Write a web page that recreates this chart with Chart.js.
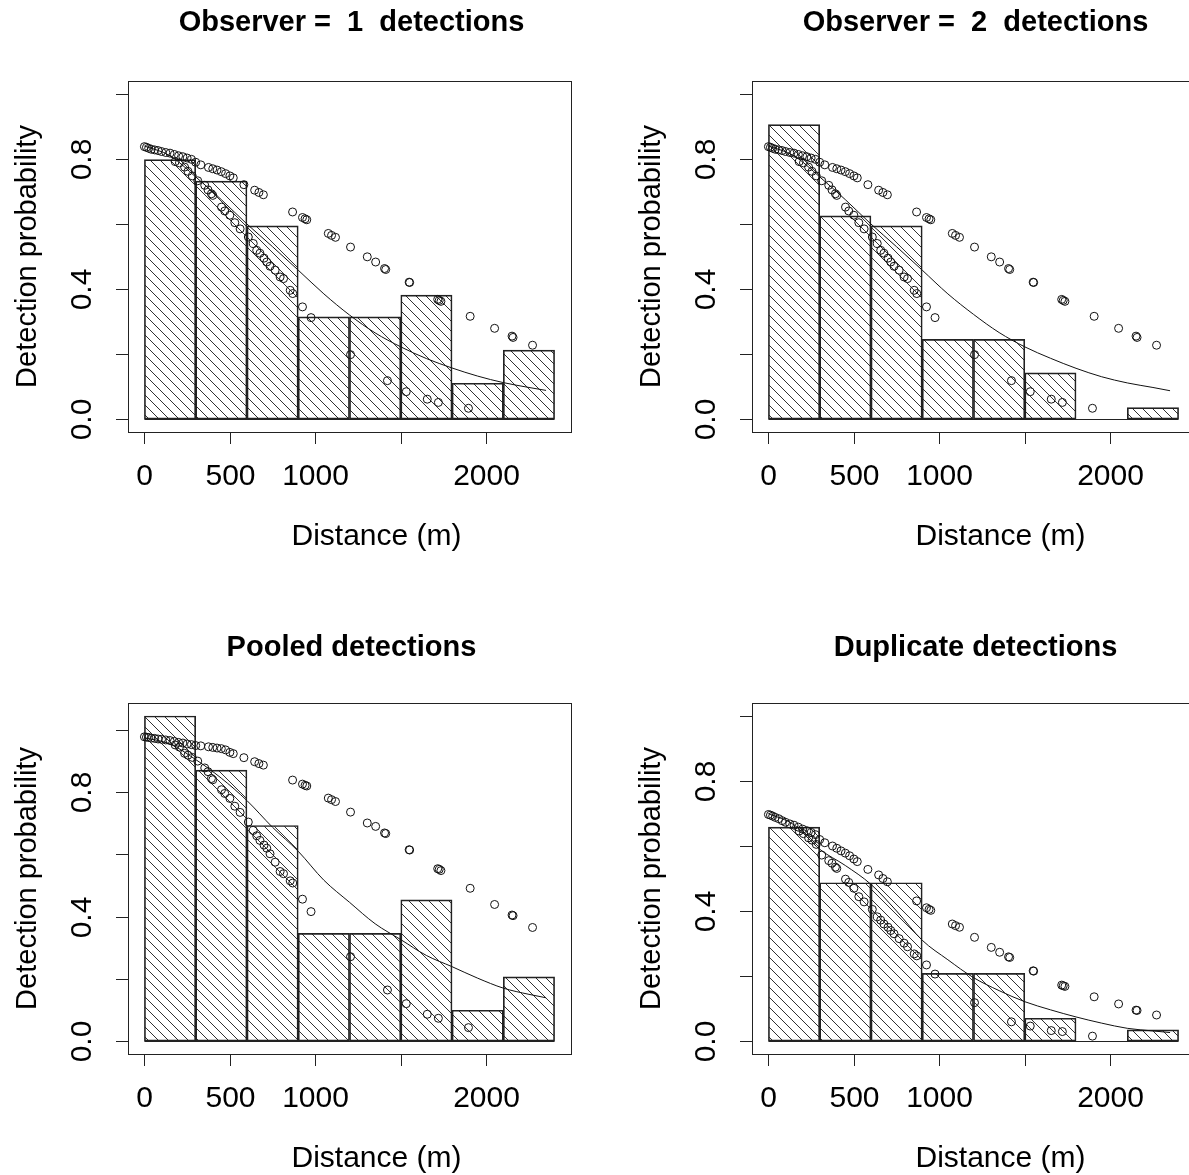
<!DOCTYPE html>
<html>
<head>
<meta charset="utf-8">
<script src="https://cdn.jsdelivr.net/npm/chart.js@4.4.1/dist/chart.umd.min.js"></script>
<style>
  html, body { margin: 0; padding: 0; background: #fff; overflow: hidden; }
  #wrap { position: relative; width: 1189px; height: 1175px; overflow: hidden; }
  canvas { position: absolute; }
</style>
</head>
<body>
<div id="wrap">
  <canvas id="obs1" width="624" height="622" style="left:0;top:0"></canvas>
  <canvas id="obs2" width="624" height="622" style="left:624px;top:0"></canvas>
  <canvas id="pooled" width="624" height="622" style="left:0;top:622px"></canvas>
  <canvas id="dup" width="624" height="622" style="left:624px;top:622px"></canvas>
</div>
<script>
// histogram bins (300 m wide), mid points and scaled heights
const binMids = [150, 450, 750, 1050, 1350, 1650, 1950, 2250];
const histObs1 = [0.798, 0.732, 0.594, 0.314, 0.314, 0.381, 0.110, 0.212];
const histObs2 = [0.906, 0.625, 0.594, 0.245, 0.245, 0.142, 0, 0.035];
const histPooled = [1.045, 0.871, 0.693, 0.346, 0.346, 0.454, 0.099, 0.206];
const histDup = [0.658, 0.487, 0.487, 0.208, 0.208, 0.070, 0, 0.034];

// average detection function curve
const curveDist = [0, 150, 300, 450, 600, 750, 900, 1050, 1200, 1350, 1500, 1650, 1800, 1950, 2100, 2250, 2350];
const curveObs1 = [0.840, 0.810, 0.745, 0.675, 0.600, 0.530, 0.458, 0.385, 0.320, 0.265, 0.222, 0.186, 0.157, 0.132, 0.112, 0.097, 0.088];
const curveObs2 = [0.840, 0.810, 0.745, 0.675, 0.600, 0.530, 0.458, 0.385, 0.322, 0.266, 0.222, 0.187, 0.156, 0.130, 0.111, 0.097, 0.087];
const curvePooled = [0.975, 0.955, 0.905, 0.845, 0.773, 0.687, 0.610, 0.517, 0.446, 0.377, 0.326, 0.275, 0.239, 0.202, 0.170, 0.150, 0.139];
const curveDup = [0.700, 0.665, 0.590, 0.540, 0.482, 0.400, 0.310, 0.250, 0.195, 0.155, 0.121, 0.096, 0.074, 0.055, 0.039, 0.031, 0.026];

// fitted detection probabilities of each detection, by distance
const sightDist = [
  0, 12, 25, 40, 60, 80, 100, 125, 150, 175, 200, 225, 250, 275, 300, 330, 375, 400, 425, 450,
  475, 500, 520, 582, 645, 670, 696, 867, 925, 940, 950, 1076, 1095, 1118, 1206, 1304, 1353, 1405, 1412, 1549,
  1552, 1716, 1725, 1735, 1906, 2049, 2151, 2157, 2271,
  180, 205, 235, 255, 280, 312, 353, 372, 392, 400, 451, 470, 500, 529, 560, 608, 637, 657, 676, 700,
  716, 735, 765, 794, 814, 853, 868, 925, 975, 1206, 1422, 1532, 1655, 1720, 1896
];
const pObs1 = [
  0.838, 0.836, 0.833, 0.830, 0.828, 0.826, 0.823, 0.820, 0.818, 0.814, 0.810, 0.807, 0.803, 0.799, 0.790, 0.782, 0.774, 0.770, 0.766, 0.761,
  0.755, 0.748, 0.742, 0.721, 0.704, 0.697, 0.690, 0.637, 0.620, 0.616, 0.613, 0.571, 0.565, 0.559, 0.529, 0.499, 0.483, 0.463, 0.460, 0.421,
  0.420, 0.368, 0.365, 0.362, 0.316, 0.279, 0.255, 0.251, 0.227,
  0.792, 0.788, 0.775, 0.762, 0.748, 0.733, 0.719, 0.705, 0.693, 0.688, 0.652, 0.640, 0.627, 0.604, 0.585, 0.560, 0.540, 0.519, 0.510, 0.495,
  0.483, 0.470, 0.458, 0.437, 0.432, 0.396, 0.386, 0.345, 0.312, 0.198, 0.118, 0.084, 0.061, 0.051, 0.033
];
const pObs2 = [
  0.838, 0.836, 0.833, 0.830, 0.828, 0.826, 0.823, 0.820, 0.818, 0.814, 0.810, 0.807, 0.803, 0.799, 0.790, 0.782, 0.774, 0.770, 0.766, 0.761,
  0.755, 0.748, 0.742, 0.721, 0.704, 0.697, 0.690, 0.637, 0.620, 0.616, 0.613, 0.571, 0.565, 0.559, 0.529, 0.499, 0.483, 0.463, 0.460, 0.421,
  0.420, 0.368, 0.365, 0.362, 0.316, 0.279, 0.255, 0.251, 0.227,
  0.792, 0.788, 0.775, 0.762, 0.748, 0.733, 0.719, 0.705, 0.693, 0.688, 0.652, 0.640, 0.627, 0.604, 0.585, 0.560, 0.540, 0.519, 0.510, 0.495,
  0.483, 0.470, 0.458, 0.437, 0.432, 0.396, 0.386, 0.345, 0.312, 0.198, 0.118, 0.084, 0.061, 0.051, 0.033
];
const pPooled = [
  0.978, 0.977, 0.976, 0.974, 0.973, 0.971, 0.970, 0.968, 0.966, 0.963, 0.960, 0.958, 0.955, 0.953, 0.950, 0.949, 0.946, 0.944, 0.942, 0.940,
  0.936, 0.928, 0.924, 0.911, 0.898, 0.892, 0.887, 0.839, 0.826, 0.822, 0.820, 0.781, 0.776, 0.770, 0.736, 0.701, 0.690, 0.669, 0.667, 0.615,
  0.614, 0.554, 0.552, 0.548, 0.491, 0.439, 0.405, 0.403, 0.365,
  0.952, 0.945, 0.925, 0.919, 0.912, 0.900, 0.878, 0.866, 0.844, 0.840, 0.808, 0.796, 0.780, 0.755, 0.735, 0.704, 0.677, 0.660, 0.645, 0.630,
  0.620, 0.602, 0.575, 0.545, 0.538, 0.515, 0.508, 0.456, 0.416, 0.271, 0.164, 0.120, 0.086, 0.073, 0.043
];
const pDup = [
  0.697, 0.695, 0.692, 0.688, 0.684, 0.678, 0.673, 0.668, 0.664, 0.658, 0.652, 0.647, 0.642, 0.635, 0.620, 0.610, 0.600, 0.593, 0.585, 0.578,
  0.570, 0.560, 0.552, 0.528, 0.511, 0.500, 0.490, 0.431, 0.410, 0.405, 0.402, 0.360, 0.355, 0.350, 0.319, 0.288, 0.273, 0.259, 0.257, 0.216,
  0.215, 0.172, 0.170, 0.168, 0.136, 0.114, 0.095, 0.094, 0.080,
  0.646, 0.638, 0.625, 0.618, 0.605, 0.572, 0.555, 0.547, 0.535, 0.531, 0.498, 0.488, 0.470, 0.444, 0.428, 0.405, 0.382, 0.372, 0.360, 0.350,
  0.340, 0.330, 0.315, 0.301, 0.290, 0.268, 0.262, 0.234, 0.206, 0.118, 0.059, 0.046, 0.032, 0.029, 0.015
];

// axis ticks (R drops the labels that would crowd)
const xTicks = [0, 500, 1000, 1500, 2000];
const xTickLabels = ['0', '500', '1000', '', '2000'];
const yTicks = [0, 0.2, 0.4, 0.6, 0.8, 1.0];
const yTickLabels = ['0.0', '', '0.4', '', '0.8', ''];

const FONT = '"Liberation Sans", Arial, sans-serif';

function hatch(ctx) {
  const c = document.createElement('canvas');
  c.width = 10; c.height = 10;
  const g = c.getContext('2d');
  g.strokeStyle = '#1a1a1a';
  g.lineWidth = 0.9;
  g.beginPath();
  g.moveTo(-1, -1); g.lineTo(11, 11);
  g.moveTo(-1, 9); g.lineTo(1, 11);
  g.moveTo(9, -1); g.lineTo(11, 1);
  g.stroke();
  return ctx.createPattern(c, 'repeat');
}

// draws the R style frame, ticks and texts
const rFrame = {
  id: 'rFrame',
  afterDraw(chart, args, opts) {
    const ctx = chart.ctx;
    const a = chart.chartArea;
    const xs = chart.scales.x, ys = chart.scales.y;
    ctx.save();
    ctx.strokeStyle = '#222';
    ctx.fillStyle = '#000';
    ctx.lineWidth = 1;
    // baseline under the histogram (empty bins too)
    ctx.beginPath();
    ctx.moveTo(xs.getPixelForValue(0), Math.round(ys.getPixelForValue(0)) + 0.5);
    ctx.lineTo(xs.getPixelForValue(2400), Math.round(ys.getPixelForValue(0)) + 0.5);
    ctx.stroke();
    // box
    ctx.strokeRect(Math.round(a.left) + 0.5, Math.round(a.top) + 0.5, Math.round(a.right - a.left), Math.round(a.bottom - a.top));
    // x ticks
    ctx.font = '30px ' + FONT;
    ctx.textAlign = 'center';
    ctx.textBaseline = 'middle';
    xTicks.forEach((v, i) => {
      const px = Math.round(xs.getPixelForValue(v)) + 0.5;
      ctx.beginPath();
      ctx.moveTo(px, a.bottom);
      ctx.lineTo(px, a.bottom + 12);
      ctx.stroke();
      if (xTickLabels[i]) ctx.fillText(xTickLabels[i], px, a.bottom + 45);
    });
    // y ticks
    yTicks.forEach((v, i) => {
      const py = Math.round(ys.getPixelForValue(v)) + 0.5;
      ctx.beginPath();
      ctx.moveTo(a.left, py);
      ctx.lineTo(a.left - 12, py);
      ctx.stroke();
      if (yTickLabels[i]) {
        ctx.save();
        ctx.translate(a.left - 45, py);
        ctx.rotate(-Math.PI / 2);
        ctx.fillText(yTickLabels[i], 0, 0);
        ctx.restore();
      }
    });
    // axis titles
    ctx.fillText('Distance (m)', (a.left + a.right) / 2 + 27, a.bottom + 105);
    ctx.save();
    ctx.translate(28, (a.top + a.bottom) / 2);
    ctx.rotate(-Math.PI / 2);
    ctx.font = '29px ' + FONT;
    ctx.fillText('Detection probability', 0, 0);
    ctx.restore();
    // main title
    ctx.font = 'bold 29px ' + FONT;
    ctx.fillText(opts.title, (a.left + a.right) / 2 + 2, opts.titleY);
    ctx.restore();
  }
};

function drawPanel(id, title, titleY, hist, curve, probs, yTop) {
  const cv = document.getElementById(id);
  const ctx = cv.getContext('2d');
  return new Chart(cv, {
    type: 'bar',
    data: {
      datasets: [
        {
          type: 'scatter',
          data: sightDist.map((d, i) => ({ x: d, y: probs[i] })),
          pointStyle: 'circle',
          pointRadius: 4,
          pointBorderWidth: 1,
          pointBorderColor: '#111',
          pointBackgroundColor: 'rgba(0,0,0,0)',
          order: 0
        },
        {
          type: 'line',
          data: curveDist.map((d, i) => ({ x: d, y: curve[i] })),
          borderColor: '#111',
          borderWidth: 1,
          pointRadius: 0,
          fill: false,
          cubicInterpolationMode: 'monotone',
          order: 1
        },
        {
          type: 'bar',
          data: binMids.map((m, i) => ({ x: m, y: hist[i] })),
          backgroundColor: hatch(ctx),
          borderColor: '#222',
          borderWidth: 1,
          borderSkipped: false,
          barPercentage: 1,
          categoryPercentage: 1,
          order: 2
        }
      ]
    },
    options: {
      responsive: false,
      animation: false,
      devicePixelRatio: 1,
      events: [],
      layout: { padding: { left: 128, right: 53, top: 81, bottom: 190 } },
      scales: {
        x: { type: 'linear', min: -96, max: 2496, offset: false, display: false },
        y: { type: 'linear', min: -0.04 * yTop, max: 1.04 * yTop, display: false }
      },
      plugins: {
        legend: { display: false },
        tooltip: { enabled: false },
        rFrame: { title: title, titleY: titleY }
      }
    },
    plugins: [rFrame]
  });
}

drawPanel('obs1', 'Observer =  1  detections', 23, histObs1, curveObs1, pObs1, 1);
drawPanel('obs2', 'Observer =  2  detections', 23, histObs2, curveObs2, pObs2, 1);
drawPanel('pooled', 'Pooled detections', 26, histPooled, curvePooled, pPooled, 1.045);
drawPanel('dup', 'Duplicate detections', 26, histDup, curveDup, pDup, 1);
</script>
</body>
</html>
